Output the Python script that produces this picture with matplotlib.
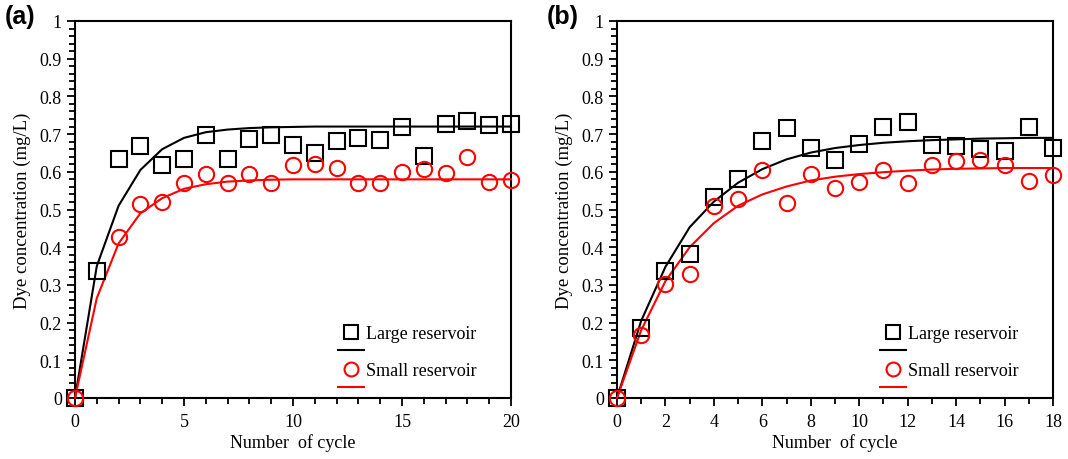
import matplotlib
matplotlib.use("Agg")
import matplotlib.pyplot as plt
from matplotlib.lines import Line2D
from matplotlib.ticker import MultipleLocator

plt.rcParams['font.family'] = ['Liberation Serif', 'DejaVu Serif']

# ---- Panel (a) data ----
a_cycles = list(range(0, 21))
a_large = [0.0, 0.337, 0.633, 0.668, 0.619, 0.633, 0.697, 0.633, 0.688, 0.698, 0.670,
           0.650, 0.683, 0.689, 0.684, 0.720, 0.643, 0.727, 0.734, 0.725, 0.727]
a_small_cycles = [0, 2, 3, 4, 5, 6, 7, 8, 9, 10, 11, 12, 13, 14, 15, 16, 17, 18, 19, 20]
a_small = [0.0, 0.428, 0.515, 0.519, 0.570, 0.595, 0.571, 0.595, 0.571, 0.618,
           0.621, 0.610, 0.571, 0.570, 0.599, 0.608, 0.596, 0.638, 0.574, 0.579]
a_large_fit = [0.0, 0.35, 0.51, 0.605, 0.66, 0.69, 0.705, 0.712, 0.716, 0.718, 0.719,
               0.72, 0.72, 0.72, 0.72, 0.72, 0.72, 0.72, 0.72, 0.72, 0.72]
a_small_fit = [0.0, 0.265, 0.41, 0.49, 0.53, 0.555, 0.567, 0.574, 0.577, 0.579, 0.58,
               0.58, 0.58, 0.58, 0.58, 0.58, 0.58, 0.58, 0.58, 0.58, 0.58]

# ---- Panel (b) data ----
b_cycles = list(range(0, 19))
b_large = [0.0, 0.186, 0.338, 0.382, 0.532, 0.580, 0.681, 0.716, 0.662, 0.630,
           0.675, 0.718, 0.732, 0.670, 0.668, 0.661, 0.654, 0.720, 0.663]
b_small = [0.0, 0.168, 0.302, 0.329, 0.510, 0.527, 0.605, 0.516, 0.594, 0.556,
           0.574, 0.605, 0.570, 0.619, 0.628, 0.630, 0.619, 0.576, 0.592]
b_large_fit = [0.0, 0.205, 0.348, 0.453, 0.521, 0.571, 0.607, 0.633, 0.651, 0.663,
               0.671, 0.677, 0.681, 0.684, 0.686, 0.688, 0.689, 0.69, 0.69]
b_small_fit = [0.0, 0.18, 0.31, 0.40, 0.464, 0.51, 0.54, 0.561, 0.577, 0.587,
               0.594, 0.599, 0.603, 0.606, 0.608, 0.609, 0.61, 0.61, 0.61]

y_label = "Dye concentration (mg/L)"
x_label = "Number  of cycle"
legend_labels = ["Large reservoir", "", "Small reservoir", ""]

fig = plt.figure(figsize=(10.68, 4.6), dpi=100)
ax_a = fig.add_axes([75/1068, 1-399/460, (511-75)/1068, (399-22)/460])
ax_b = fig.add_axes([617/1068, 1-399/460, (1053-617)/1068, (399-22)/460])

BLACK = "#000000"
RED = "#ff0000"
FS = 13


def style(ax, xmax, xmajor):
    ax.set_xlim(0, xmax)
    ax.set_ylim(0, 1)
    ax.xaxis.set_major_locator(MultipleLocator(xmajor))
    ax.xaxis.set_minor_locator(MultipleLocator(1))
    ax.yaxis.set_major_locator(MultipleLocator(0.1))
    ax.yaxis.set_minor_locator(MultipleLocator(0.02))
    ax.tick_params(which='both', direction='out', labelsize=FS, width=1.3,
                   top=False, right=False)
    ax.tick_params(which='major', length=6)
    ax.tick_params(which='minor', length=4)
    ax.tick_params(axis='x', which='both', pad=5)
    for s in ax.spines.values():
        s.set_linewidth(1.5)
    ax.yaxis.set_major_formatter(plt.FuncFormatter(lambda v, p: ("%g" % round(v, 2))))
    ax.set_ylabel(y_label, fontsize=13.5, labelpad=6)
    ax.set_xlabel(x_label, fontsize=FS, labelpad=2)


def draw(ax, xs_l, yl, xs_s, ys, xf, fl, fs):
    ax.plot(xf, fl, color=BLACK, lw=1.5, zorder=3, clip_on=False)
    ax.plot(xf, fs, color=RED, lw=1.5, zorder=3, clip_on=False)
    ax.plot(xs_l, yl, linestyle='none', marker='s', markersize=11, markerfacecolor='none',
            markeredgecolor=BLACK, markeredgewidth=1.5, zorder=4, clip_on=False)
    ax.plot(xs_s, ys, linestyle='none', marker='o', markersize=11, markerfacecolor='none',
            markeredgecolor=RED, markeredgewidth=1.5, zorder=4, clip_on=False)
    handles = [
        Line2D([], [], linestyle='none', marker='s', markersize=10, markerfacecolor='none',
               markeredgecolor=BLACK, markeredgewidth=1.5),
        Line2D([], [], color=BLACK, lw=1.5),
        Line2D([], [], linestyle='none', marker='o', markersize=10, markerfacecolor='none',
               markeredgecolor=RED, markeredgewidth=1.5),
        Line2D([], [], color=RED, lw=1.5),
    ]
    ax.legend(handles, legend_labels, loc='lower right', frameon=False, fontsize=13,
              handlelength=1.44, handletextpad=0.15, labelspacing=0.08,
              borderaxespad=0.3, bbox_to_anchor=(0.951, -0.032))


style(ax_a, 20, 5)
draw(ax_a, a_cycles, a_large, a_small_cycles, a_small, a_cycles, a_large_fit, a_small_fit)
style(ax_b, 18, 2)
draw(ax_b, b_cycles, b_large, b_cycles, b_small, b_cycles, b_large_fit, b_small_fit)

fig.text(5/1068, 1-17/460, "(a)", fontsize=18, fontweight='bold',
         family=['Liberation Sans', 'DejaVu Sans'], va='center', ha='left')
fig.text(547/1068, 1-17/460, "(b)", fontsize=18, fontweight='bold',
         family=['Liberation Sans', 'DejaVu Sans'], va='center', ha='left')

fig.savefig("out.png", dpi=100)
